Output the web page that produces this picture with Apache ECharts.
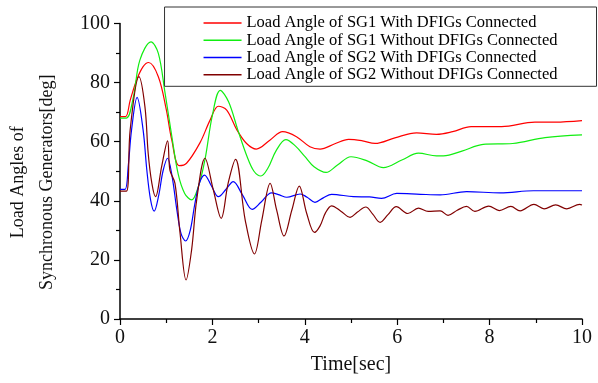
<!DOCTYPE html>
<html>
<head>
<meta charset="utf-8">
<script src="https://cdn.jsdelivr.net/npm/echarts@6/dist/echarts.min.js"></script>
<style>html,body{margin:0;padding:0;background:#fff}#c{width:598px;height:383px}</style>
</head>
<body>
<div id="c"></div>
<script>
var seriesNames = [
  'Load Angle of SG1 With DFIGs Connected',
  'Load Angle of SG1 Without DFIGs Connected',
  'Load Angle of SG2 With DFIGs Connected',
  'Load Angle of SG2 Without DFIGs Connected'
];
var xTicks = [0, 2, 4, 6, 8, 10];
var yTicks = [0, 20, 40, 60, 80, 100];

var sg1With = [[0,68.5],[0.12,68.5],[0.22,74],[0.36,80.9],[0.5,85.4],[0.62,86.8],[0.83,82],[1.0,71],[1.12,60.6],[1.28,51.9],[1.44,52.7],[1.73,59.6],[1.95,67.3],[2.13,72],[2.31,70.7],[2.53,64],[2.74,59.4],[2.95,57.5],[3.25,60.6],[3.52,63.4],[3.82,61.7],[4.11,58.3],[4.33,57.5],[4.65,59.3],[4.95,60.8],[5.25,60.3],[5.52,59.4],[5.95,61.3],[6.42,63],[6.85,62.5],[7.2,63.4],[7.6,65.1],[8.26,65.1],[8.98,66.6],[9.42,66.6],[10,67.1]];

var sg1Without = [[0,68],[0.14,68],[0.29,75.2],[0.43,87.6],[0.67,93.8],[0.83,89.9],[0.97,77],[1.12,62],[1.26,49],[1.4,42.5],[1.55,40.3],[1.7,45],[1.84,54],[2.0,69],[2.17,77.4],[2.35,73.5],[2.55,64],[2.75,55],[2.9,50],[3.05,48.4],[3.2,51],[3.38,57],[3.59,60.7],[3.8,58.5],[4.0,55],[4.2,51.5],[4.46,49.6],[4.7,52],[5.0,54.9],[5.35,53.5],[5.7,51.2],[6.1,53.8],[6.46,56.1],[6.85,55.2],[7.0,55.2],[7.4,56.8],[7.86,59.1],[8.5,59.4],[9.2,61.4],[10,62.3]];

var sg2With = [[0,43.9],[0.11,43.9],[0.18,52],[0.25,64],[0.37,75],[0.5,64],[0.58,50.5],[0.66,40.5],[0.74,36.5],[0.84,42],[0.93,50],[1.03,54.4],[1.13,48],[1.23,37],[1.32,29],[1.42,26.4],[1.52,30],[1.62,39],[1.72,46],[1.83,48.7],[1.98,45],[2.13,41.4],[2.3,44],[2.45,46.5],[2.65,42],[2.86,37.1],[3.05,39.5],[3.28,42.7],[3.45,42],[3.61,41.2],[3.9,42.3],[4.05,41.2],[4.22,39.5],[4.4,41],[4.58,42.2],[5.05,41.4],[5.4,41.3],[5.66,40.8],[5.99,42.5],[6.5,42.2],[6.93,42.0],[7.5,43.1],[8.23,42.7],[8.95,43.4],[10,43.4]];

var sg2Without = [[0,43.3],[0.14,43.3],[0.22,64],[0.41,82],[0.54,71.8],[0.61,56.1],[0.69,45.9],[0.77,41.4],[0.9,51.5],[1.03,60.3],[1.08,50.4],[1.19,45.9],[1.3,29],[1.43,13.2],[1.55,23.4],[1.66,40.3],[1.84,54.4],[2.02,43.7],[2.19,34.1],[2.34,45.9],[2.5,54],[2.71,33.5],[2.91,22],[3.07,33.5],[3.25,45.9],[3.39,36.9],[3.55,28.1],[3.72,36.9],[3.88,45],[4.04,35.8],[4.21,29.3],[4.33,31.5],[4.45,36],[4.58,38.3],[4.78,36.5],[4.98,34.4],[5.14,36.2],[5.32,37.9],[5.47,35.5],[5.63,32.7],[5.8,35.3],[5.98,38],[6.23,35.7],[6.46,37.5],[6.67,36.4],[6.93,36.6],[7.1,35.1],[7.3,36.8],[7.5,38.1],[7.68,36.4],[7.98,38.2],[8.21,36.7],[8.46,38.1],[8.66,36.6],[8.96,38.8],[9.18,37.3],[9.43,38.6],[9.67,37.3],[9.95,38.8],[10,38.6]];

var colors = ['#ff0000', '#11ee11', '#0000ff', '#800000'];
var dataList = [sg1With, sg1Without, sg2With, sg2Without];

var chart = echarts.init(document.getElementById('c'));
var font = 'Liberation Serif';
chart.setOption({
  animation: false,
  backgroundColor: '#fff',
  grid: {left: 120, right: 16, top: 23.5, bottom: 64, containLabel: false, outerBoundsMode: 'none'},
  legend: {
    orient: 'vertical',
    right: 1.5,
    top: 7,
    padding: [7.5, 39, 3, 39],
    itemWidth: 38,
    itemHeight: 14,
    itemGap: 0,
    icon: 'path://M0,0L38,0L38,1.5L0,1.5Z',
    symbolKeepAspect: true,
    borderColor: '#333',
    borderWidth: 1,
    backgroundColor: '#fff',
    textStyle: {fontFamily: font, fontSize: 16.5, color: '#000', lineHeight: 17.2},
    data: seriesNames
  },
  xAxis: {
    type: 'value', min: 0, max: 10, interval: 2,
    name: 'Time[sec]', nameLocation: 'middle', nameGap: 36,
    nameTextStyle: {fontFamily: font, fontSize: 20, color: '#111'},
    axisLine: {show: true, onZero: false, lineStyle: {color: '#000', width: 1.5}},
    axisTick: {show: true, inside: false, length: 6, lineStyle: {color: '#000', width: 1.2}},
    minorTick: {show: true, splitNumber: 2, length: 4, lineStyle: {color: '#000', width: 1.2}},
    axisLabel: {fontFamily: font, fontSize: 20, color: '#111', margin: 9,
      formatter: function (v) { return xTicks.indexOf(v) >= 0 ? String(v) : ''; }},
    splitLine: {show: false}
  },
  yAxis: {
    type: 'value', min: 0, max: 100, interval: 20,
    name: 'Load Angles of\nSynchronous Generators[deg]', nameLocation: 'middle', nameGap: 58,
    nameTextStyle: {fontFamily: font, fontSize: 18, color: '#111', lineHeight: 29, padding: [0, 22, 0, 0]},
    axisLine: {show: true, onZero: false, lineStyle: {color: '#000', width: 1.5}},
    axisTick: {show: true, inside: false, length: 6, lineStyle: {color: '#000', width: 1.2}},
    minorTick: {show: true, splitNumber: 2, length: 4, lineStyle: {color: '#000', width: 1.2}},
    axisLabel: {fontFamily: font, fontSize: 20, color: '#111', margin: 10,
      formatter: function (v) { return yTicks.indexOf(v) >= 0 ? String(v) : ''; }},
    splitLine: {show: false}
  },
  series: seriesNames.map(function (n, i) {
    return {
      name: n, type: 'line', data: dataList[i],
      symbol: 'none', showSymbol: false, smooth: 0.35,
      color: colors[i],
      lineStyle: {color: colors[i], width: 1.2},
      z: 2 + i
    };
  })
});
</script>
</body>
</html>
